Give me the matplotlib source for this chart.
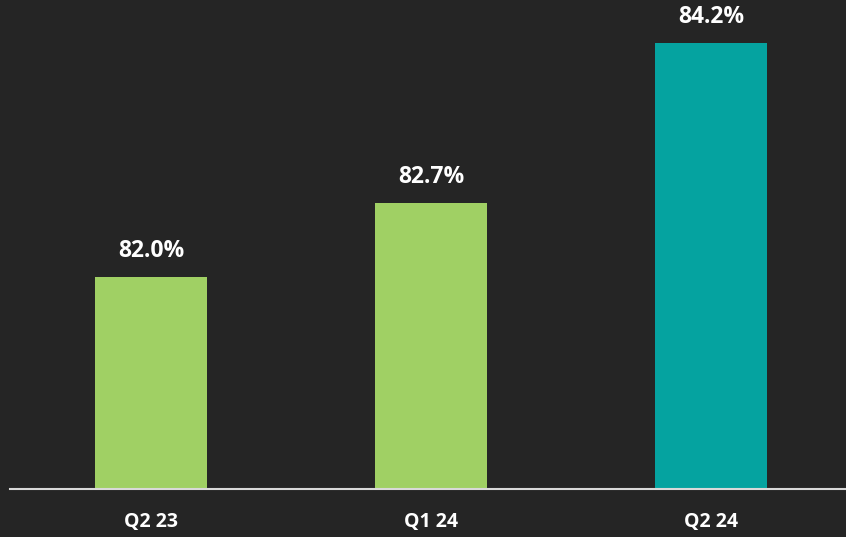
import matplotlib
matplotlib.use("Agg")
import matplotlib.pyplot as plt

categories = ["Q2 23", "Q1 24", "Q2 24"]
values = [82.0, 82.7, 84.2]
colors = ["#A0D064", "#A0D064", "#05A3A0"]

bg = "#252525"
plt.rcParams['font.family'] = ['Open Sans', 'DejaVu Sans']

fig = plt.figure(figsize=(8.46, 5.37), dpi=100, facecolor=bg)
ax = fig.add_axes([10/846, 48/537, 836/846, 489/537])
ax.set_facecolor(bg)

x = list(range(len(categories)))
ax.bar(x, values, width=0.4, color=colors, bottom=0)
ax.set_xlim(-0.5036, 2.482)
ax.set_ylim(80.0, 84.61)

for xi, v in zip(x, values):
    ax.annotate(f"{v:.1f}%", (xi, v), xytext=(0, 26), textcoords="offset pixels",
                ha="center", va="center", color="white", fontsize=16.5, fontweight="bold")

for s in ["top", "right", "left"]:
    ax.spines[s].set_visible(False)
ax.spines["bottom"].set_color("#D9D9D9")
ax.spines["bottom"].set_linewidth(1.5)
ax.set_yticks([])
ax.set_xticks(x)
ax.set_xticklabels(categories, color="white", fontsize=14, fontweight="bold")
ax.tick_params(axis="x", length=0, pad=16.5)

fig.savefig("out.png", dpi=100, facecolor=bg)
